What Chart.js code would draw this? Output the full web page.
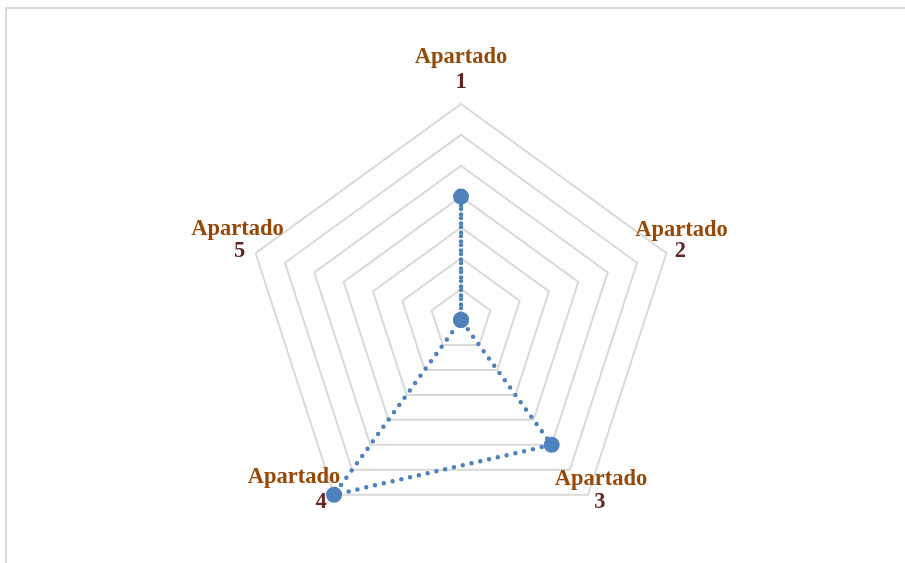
<!DOCTYPE html>
<html>
<head>
<meta charset="utf-8">
<script src="https://cdn.jsdelivr.net/npm/chart.js@4"></script>
<style>
  body { margin: 0; background: #fff; }
  #wrap { position: relative; width: 905px; height: 563px; }
  #frame {
    position: absolute; left: 5px; top: 7px; right: 0; bottom: 0;
    border-top: 2px solid #dadada; border-left: 2px solid #dadada;
    pointer-events: none;
  }
</style>
</head>
<body>
<div id="wrap">
  <canvas id="myChart"></canvas>
  <div id="frame"></div>
</div>
<script>
// datos del grafico radar
const categories = ['Apartado 1', 'Apartado 2', 'Apartado 3', 'Apartado 4', 'Apartado 5'];
const words = ['Apartado', 'Apartado', 'Apartado', 'Apartado', 'Apartado'];
const numbers = ['1', '2', '3', '4', '5'];
const values = [4, 0, 5, 7, 0];

// donde va cada etiqueta respecto al vertice exterior (como lo deja Excel)
const labelOffsets = [
  { wx: 0, wy: -41, nx: 0, ny: -16 },
  { wx: 15, wy: -17, nx: 14, ny: 4 },
  { wx: 13, wy: -10, nx: 12, ny: 13 },
  { wx: -40, wy: -12, nx: -13, ny: 13 },
  { wx: -18, wy: -18, nx: -16, ny: 4 },
];

const labelFont = 'bold 22.5px "Liberation Serif", serif';

const twoColorLabels = {
  id: 'twoColorLabels',
  afterDraw(chart) {
    const scale = chart.scales.r;
    const ctx = chart.ctx;
    ctx.save();
    ctx.font = labelFont;
    ctx.textAlign = 'center';
    ctx.textBaseline = 'alphabetic';
    categories.forEach((c, i) => {
      const p = scale.getPointPosition(i, scale.drawingArea);
      const o = labelOffsets[i];
      ctx.fillStyle = '#974806';
      ctx.fillText(words[i], p.x + o.wx, p.y + o.wy);
      ctx.fillStyle = '#632523';
      ctx.fillText(numbers[i], p.x + o.nx, p.y + o.ny);
    });
    ctx.restore();
  },
};

const ctx = document.getElementById('myChart');

new Chart(ctx, {
  type: 'radar',
  data: {
    labels: categories,
    datasets: [
      {
        label: 'Serie',
        data: values,
        borderColor: '#4f81bd',
        backgroundColor: '#4f81bd',
        borderWidth: 4.5,
        borderDash: [0, 9],
        borderCapStyle: 'round',
        fill: false,
        pointRadius: 8,
        pointBorderWidth: 0,
        pointBackgroundColor: '#4f81bd',
        pointHoverRadius: 8,
      },
    ],
  },
  options: {
    responsive: true,
    maintainAspectRatio: false,
    animation: false,
    layout: { padding: { top: 104, bottom: 27, left: 245, right: 228 } },
    plugins: {
      legend: { display: false },
      tooltip: { enabled: false },
    },
    scales: {
      r: {
        min: 0,
        max: 7,
        ticks: { stepSize: 1, display: false },
        grid: { color: '#d9d9d9', lineWidth: 2 },
        angleLines: { display: false },
        pointLabels: { display: false },
      },
    },
  },
  plugins: [twoColorLabels],
});
</script>
</body>
</html>
